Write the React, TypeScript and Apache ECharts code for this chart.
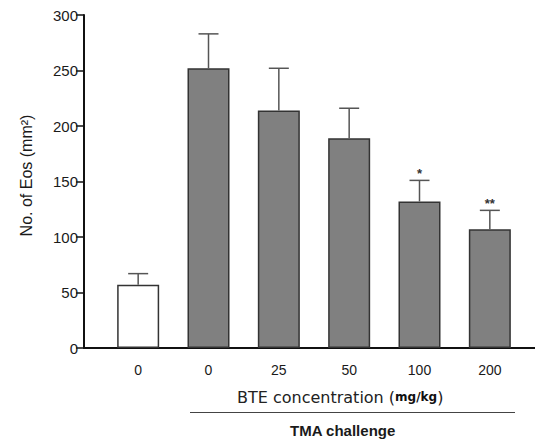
import React, { useEffect, useRef } from "react";
import * as echarts from "echarts";

const categories = ["0", "0", "25", "50", "100", "200"];
const means = [57, 252, 214, 189, 132, 107];
const errorTops = [67, 283, 252, 216, 151, 124];
const significance = ["", "", "", "", "*", "**"];
const barFills = ["#ffffff", "#808080", "#808080", "#808080", "#808080", "#808080"];
const yMin = 0;
const yMax = 300;
const yStep = 50;

const FONT = "'Liberation Sans', Arial, sans-serif";
const WIDE = "'DejaVu Sans', sans-serif";

export default function App() {
  const ref = useRef<HTMLDivElement>(null);
  useEffect(() => {
    if (!ref.current) return;
    const chart = echarts.init(ref.current, undefined, { renderer: "svg" });
    const option: any = {
      animation: false,
      backgroundColor: "#ffffff",
      textStyle: { fontFamily: FONT },
      grid: [
        { left: 84, right: 0, top: 15, bottom: 94 },
        { left: 103, right: 10, top: 15, bottom: 94 },
      ],
      xAxis: [
        {
          gridIndex: 0,
          type: "value",
          min: 0,
          max: 1,
          axisLine: { show: true, lineStyle: { color: "#111", width: 2 } },
          axisTick: { show: false },
          axisLabel: { show: false },
          splitLine: { show: false },
        },
        {
          gridIndex: 1,
          type: "category",
          data: categories,
          axisLine: { show: false },
          axisTick: { show: false },
          axisLabel: { fontSize: 14, color: "#1a1a1a", margin: 15, fontFamily: FONT },
        },
      ],
      yAxis: [
        {
          gridIndex: 0,
          type: "value",
          min: yMin,
          max: yMax,
          interval: yStep,
          name: "No. of Eos (mm²)",
          nameLocation: "middle",
          nameGap: 50,
          nameTextStyle: { fontSize: 16, color: "#1a1a1a", fontFamily: FONT, padding: [0, 0, 0, 12] },
          axisLine: { show: true, lineStyle: { color: "#111", width: 2 } },
          axisTick: { show: true, length: 8, lineStyle: { color: "#111", width: 1.5 } },
          axisLabel: { fontSize: 15, color: "#1a1a1a", margin: 6, fontFamily: FONT },
          splitLine: { show: false },
        },
        {
          gridIndex: 1,
          type: "value",
          min: yMin,
          max: yMax,
          show: false,
          splitLine: { show: false },
        },
      ],
      series: [
        {
          type: "bar",
          xAxisIndex: 1,
          yAxisIndex: 1,
          barWidth: 42,
          data: means.map((v, i) => ({
            value: v,
            itemStyle: { color: barFills[i], borderColor: "#333", borderWidth: 1.5 },
          })),
          z: 2,
        },
        {
          type: "custom",
          xAxisIndex: 1,
          yAxisIndex: 1,
          z: 3,
          data: means.map((m, i) => [i, m, errorTops[i]]),
          renderItem: (params: any, api: any) => {
            const i = api.value(0);
            const base = api.coord([i, api.value(1)]);
            const top = api.coord([i, api.value(2)]);
            const sig = significance[params.dataIndex];
            const style = { stroke: "#555", lineWidth: 1.5 };
            const children: any[] = [
              { type: "line", shape: { x1: base[0], y1: base[1], x2: top[0], y2: top[1] }, style },
              { type: "line", shape: { x1: top[0] - 10, y1: top[1], x2: top[0] + 10, y2: top[1] }, style },
            ];
            if (sig) {
              children.push({
                type: "text",
                style: {
                  text: sig,
                  x: top[0],
                  y: top[1],
                  align: "center",
                  verticalAlign: "bottom",
                  fontSize: 13,
                  fontWeight: "bold",
                  fill: "#333",
                  fontFamily: FONT,
                },
              });
            }
            return { type: "group", children };
          },
        },
      ],
      graphic: [
        {
          type: "text",
          left: 237,
          top: 389,
          style: {
            text: "{a|BTE concentration (}{b|mg/kg}{a|)}",
            rich: {
              a: { fontSize: 16, fill: "#222", fontFamily: WIDE },
              b: { fontSize: 12, fill: "#111", fontWeight: "bold", fontFamily: WIDE },
            },
          },
        },
        {
          type: "line",
          shape: { x1: 190, y1: 412.5, x2: 515, y2: 412.5 },
          style: { stroke: "#444", lineWidth: 1 },
        },
        {
          type: "text",
          left: 290,
          top: 423,
          style: {
            text: "TMA challenge",
            fontSize: 15,
            fontWeight: "bold",
            fill: "#1a1a1a",
            fontFamily: FONT,
          },
        },
      ],
    };
    chart.setOption(option);
    return () => chart.dispose();
  }, []);
  return (
    <div
      ref={ref}
      style={{ position: "fixed", left: 0, top: 0, width: 535, height: 442, background: "#fff" }}
    />
  );
}
